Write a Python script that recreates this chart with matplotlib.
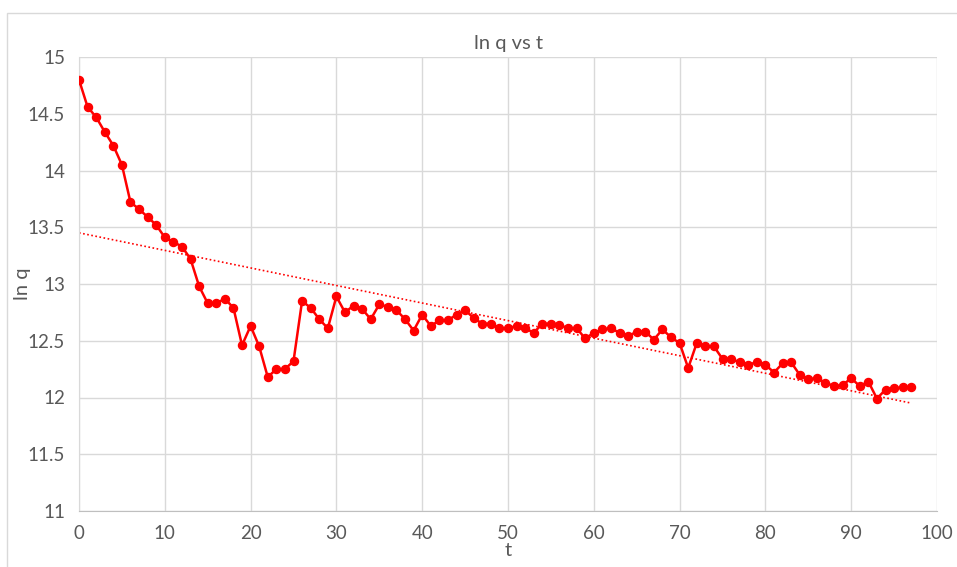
import numpy as np
import matplotlib.pyplot as plt

# data
t = list(range(98))
lnq = [14.80, 14.56, 14.47, 14.34, 14.22, 14.05, 13.72, 13.66, 13.59, 13.52,
       13.41, 13.37, 13.33, 13.22, 12.98, 12.83, 12.83, 12.87, 12.79, 12.46,
       12.63, 12.45, 12.18, 12.25, 12.25, 12.32, 12.85, 12.79, 12.69, 12.61,
       12.89, 12.75, 12.81, 12.78, 12.69, 12.82, 12.80, 12.77, 12.69, 12.59,
       12.73, 12.63, 12.68, 12.68, 12.73, 12.77, 12.70, 12.65, 12.65, 12.61,
       12.61, 12.63, 12.61, 12.57, 12.65, 12.65, 12.64, 12.61, 12.61, 12.52,
       12.57, 12.60, 12.61, 12.57, 12.54, 12.58, 12.58, 12.51, 12.60, 12.53,
       12.48, 12.26, 12.48, 12.45, 12.45, 12.34, 12.34, 12.31, 12.29, 12.31,
       12.29, 12.22, 12.30, 12.31, 12.20, 12.16, 12.17, 12.13, 12.10, 12.11,
       12.17, 12.10, 12.14, 11.99, 12.07, 12.08, 12.09, 12.09]

plt.rcParams['font.family'] = ['Lato', 'DejaVu Sans']
txt = '#595959'

fig = plt.figure(figsize=(9.57, 5.67), dpi=100)
ax = fig.add_axes([79/957, 1 - 511/567, (937-79)/957, (511-57)/567])

# linear trendline
k, b = np.polyfit(t, lnq, 1)
tt = np.array([t[0], t[-1]])
ax.plot(tt, k*tt + b, color='red', lw=1.2, linestyle=(0, (1, 1.5)), zorder=2)

ax.plot(t, lnq, color='red', lw=1.8, marker='o', markersize=5.8, zorder=3)

ax.set_xlim(0, 100)
ax.set_ylim(11, 15)
ax.set_xticks(np.arange(0, 101, 10))
ax.set_yticks(np.arange(11, 15.01, 0.5))
ax.set_yticklabels(['11', '11.5', '12', '12.5', '13', '13.5', '14', '14.5', '15'])
ax.grid(True, color='#d9d9d9', lw=1)
ax.set_axisbelow(True)
ax.tick_params(length=0, labelsize=13.5, colors=txt, pad=10)
for s in ['top', 'right']:
    ax.spines[s].set_visible(False)
ax.spines['left'].set_color('#d9d9d9')
ax.spines['bottom'].set_color('#bfbfbf')

ax.set_title('ln q vs t', fontsize=14.5, color=txt, pad=6)
ax.set_xlabel('t', fontsize=14.5, color=txt)
ax.set_ylabel('ln q', fontsize=14.5, color=txt)
ax.xaxis.set_label_coords(0.5, -0.068)
ax.yaxis.set_label_coords(-0.056, 0.5)

# chart border
fig.patches.append(plt.Rectangle((7/957, -0.01), 1, 1 - 13/567 + 0.01,
                                 transform=fig.transFigure, fill=False,
                                 edgecolor='#d9d9d9', lw=1))

fig.savefig('out.png', dpi=100)
